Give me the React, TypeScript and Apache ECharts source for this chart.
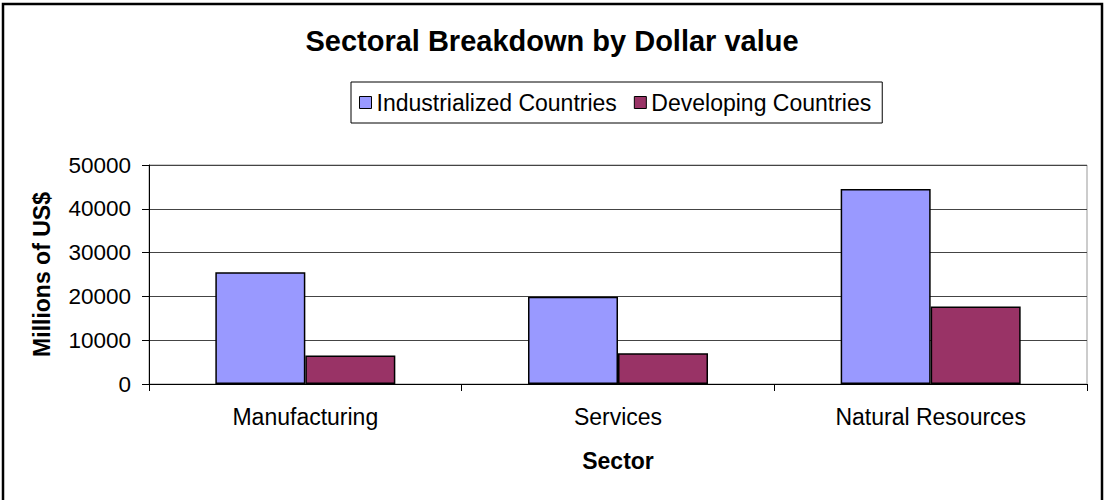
import React, { useEffect, useRef } from "react";
import * as echarts from "echarts";

const categories = ["Manufacturing", "Services", "Natural Resources"];
const industrialized = [25500, 19900, 44500];
const developing = [6500, 7000, 17700];
const seriesNames = ["Industrialized Countries", "Developing Countries"];
const titleText = "Sectoral Breakdown by Dollar value";
const yAxisName = "Millions of US$";
const xAxisName = "Sector";

const FONT = 'Arial, "Liberation Sans", sans-serif';

export default function App() {
  const ref = useRef<HTMLDivElement>(null);
  useEffect(() => {
    if (!ref.current) return;
    const chart = echarts.init(ref.current, undefined, { renderer: "svg" });
    chart.setOption({
      animation: false,
      backgroundColor: "#ffffff",
      textStyle: { fontFamily: FONT },
      title: {
        text: titleText,
        left: "center",
        top: 21,
        textStyle: { fontFamily: FONT, fontSize: 29, fontWeight: "bold", color: "#000" },
      },
      graphic: [
        {
          type: "rect",
          shape: { x: 3, y: 4, width: 1099, height: 520 },
          style: { fill: "none", stroke: "#000", lineWidth: 2.5 },
          silent: true,
        },
      ],
      legend: {
        left: 351,
        top: 82,
        padding: [9, 11, 9, 8],
        itemGap: 17,
        itemWidth: 12,
        itemHeight: 12,
        icon: "rect",
        borderColor: "#000",
        borderWidth: 1,
        textStyle: { fontFamily: FONT, fontSize: 23, color: "#000" },
        itemStyle: { borderColor: "#000", borderWidth: 1 },
        data: seriesNames,
      },
      grid: {
        left: 149,
        right: 17,
        top: 165,
        bottom: 116,
        show: true,
        borderColor: "#999999",
        borderWidth: 1,
        backgroundColor: "#ffffff",
      },
      xAxis: {
        type: "category",
        data: categories,
        name: xAxisName,
        nameLocation: "middle",
        nameGap: 65,
        nameTextStyle: { fontFamily: FONT, fontSize: 23, fontWeight: "bold", color: "#000" },
        axisLine: { lineStyle: { color: "#000", width: 1 } },
        axisTick: { show: true, alignWithLabel: false, length: 7, lineStyle: { color: "#000" } },
        axisLabel: { fontFamily: FONT, fontSize: 23, color: "#000", margin: 21 },
      },
      yAxis: {
        type: "value",
        min: 0,
        max: 50000,
        interval: 10000,
        name: yAxisName,
        nameLocation: "middle",
        nameGap: 96,
        nameTextStyle: { fontFamily: FONT, fontSize: 23, fontWeight: "bold", color: "#000" },
        axisLine: { show: true, lineStyle: { color: "#000", width: 1 } },
        axisTick: { show: true, length: 7, lineStyle: { color: "#000" } },
        axisLabel: {
          fontFamily: FONT,
          fontSize: 22.5,
          color: "#000",
          margin: 18,
          formatter: (v: number) => String(v),
        },
        splitLine: { show: true, lineStyle: { color: "#444", width: 1 } },
      },
      series: [
        {
          name: seriesNames[0],
          type: "bar",
          data: industrialized,
          barWidth: 90,
          barGap: "0%",
          itemStyle: { color: "#9999FF", borderColor: "#000", borderWidth: 1.5 },
        },
        {
          name: seriesNames[1],
          type: "bar",
          data: developing,
          barWidth: 90,
          barGap: "0%",
          itemStyle: { color: "#993366", borderColor: "#000", borderWidth: 1.5 },
        },
      ],
    });
    return () => chart.dispose();
  }, []);
  return (
    <div
      ref={ref}
      style={{ position: "fixed", left: 0, top: 0, width: 1104, height: 500, background: "#fff" }}
    />
  );
}
